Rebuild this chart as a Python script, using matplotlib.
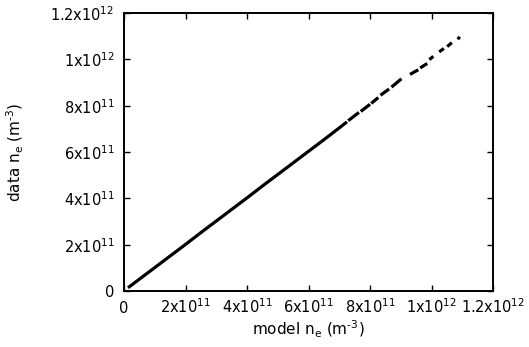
import numpy as np
import matplotlib
matplotlib.use("Agg")
import matplotlib.pyplot as plt

# model vs data electron density, in units of 1e11 m^-3
# (nan separates the short clusters of points seen at the high end)
model_ne = [0.13, 0.3, 0.6, 1.0, 1.5, 2.0, 2.5, 3.0, 3.5, 4.0, 4.5, 5.0, 5.5, 6.0,
            6.5, 7.0, 7.25, np.nan, 7.29, 7.64, np.nan, 7.70, 8.0, np.nan, 8.04, 8.27,
            np.nan, 8.34, 8.62, np.nan, 8.70, 9.02, np.nan, 9.30, 9.57, np.nan, 9.63, 9.86,
            np.nan, 9.93, 10.06, np.nan, 10.25, 10.40, np.nan, 10.51, 10.66,
            np.nan, 10.86, 10.91]
data_ne = [0.14, 0.31, 0.61, 1.01, 1.51, 2.01, 2.52, 3.02, 3.52, 4.02, 4.53, 5.03, 5.53, 6.03,
           6.53, 7.04, 7.30, np.nan, 7.35, 7.71, np.nan, 7.75, 8.06, np.nan, 8.10, 8.35,
           np.nan, 8.45, 8.72, np.nan, 8.80, 9.16, np.nan, 9.35, 9.55, np.nan, 9.63, 9.82,
           np.nan, 9.99, 10.13, np.nan, 10.32, 10.47, np.nan, 10.55, 10.72,
           np.nan, 10.86, 10.98]

tick_vals = [0, 2e11, 4e11, 6e11, 8e11, 1e12, 1.2e12]
tick_labels = ["0", "2x10$\\mathregular{^{11}}$", "4x10$\\mathregular{^{11}}$",
               "6x10$\\mathregular{^{11}}$", "8x10$\\mathregular{^{11}}$",
               "1x10$\\mathregular{^{12}}$", "1.2x10$\\mathregular{^{12}}$"]

plt.rcParams.update({
    "font.family": "DejaVu Sans",
    "font.size": 10,
})

fig = plt.figure(figsize=(5.29, 3.47), dpi=100)
ax = fig.add_axes([0.2344, 0.1614, 0.932 - 0.2344, 0.9625 - 0.1614])

x = np.array(model_ne) * 1e11
y = np.array(data_ne) * 1e11
ax.plot(x, y, color="black", lw=2.3, solid_capstyle="butt")

ax.set_xlim(0, 1.2e12)
ax.set_ylim(0, 1.2e12)
ax.set_xticks(tick_vals)
ax.set_xticklabels(tick_labels)
ax.set_yticks(tick_vals)
ax.set_yticklabels(tick_labels)

ax.tick_params(direction="in", length=4, width=1, top=True, right=True,
               labelsize=10.5, color="black")
ax.tick_params(axis="y", pad=7)
ax.tick_params(axis="x", pad=16)
for lab in ax.get_xticklabels():
    lab.set_verticalalignment("baseline")
for s in ax.spines.values():
    s.set_linewidth(1.4)

ax.set_xlabel("model n$\\mathregular{_e}$ (m$\\mathregular{^{\u20103}}$)", fontsize=11)
ax.set_ylabel("data n$\\mathregular{_e}$ (m$\\mathregular{^{\u20103}}$)", fontsize=11)
ax.xaxis.set_label_coords(0.5, -0.1)
ax.yaxis.set_label_coords(-0.265, 0.5)

fig.savefig("out.png", dpi=100)
